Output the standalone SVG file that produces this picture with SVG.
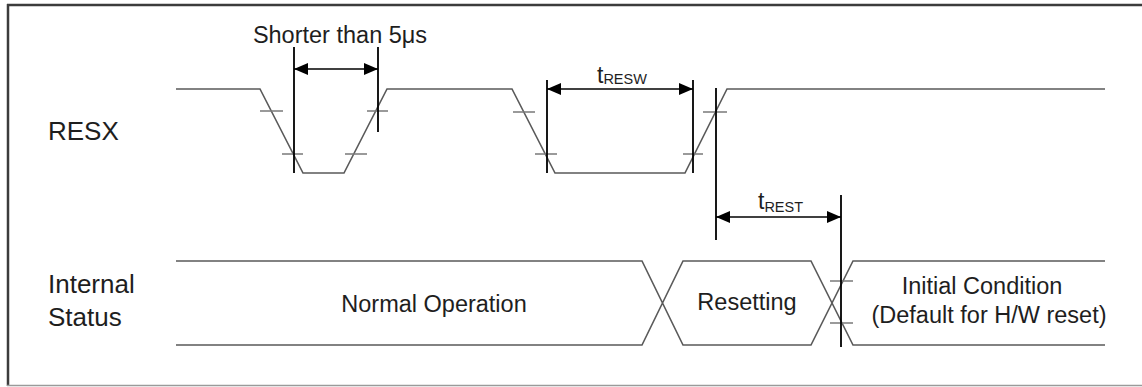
<svg xmlns="http://www.w3.org/2000/svg" width="1142" height="387" viewBox="0 0 1142 387">
<style>
.sig{fill:none;stroke:#5a5a5a;stroke-width:1.6;stroke-linejoin:miter}
.tick{fill:none;stroke:#7a7a7a;stroke-width:1.6}
.vl{fill:none;stroke:#000;stroke-width:1.8}
.dim{fill:none;stroke:#000;stroke-width:1.6;marker-start:url(#ah);marker-end:url(#ah)}
.t{font-family:"Liberation Sans",Arial,sans-serif;fill:#1e1e1e}
.lbl{font-size:26px}
.mid{font-size:23.5px;text-anchor:middle}
.sub{font-size:14.5px}
</style>
<defs>
<marker id="ah" viewBox="0 0 14 12" refX="14" refY="6" markerWidth="14" markerHeight="12" markerUnits="userSpaceOnUse" orient="auto-start-reverse">
<path d="M0,0 L14,6 L0,12 Z" fill="#000"/>
</marker>
</defs>
<rect x="0" y="0" width="1142" height="387" fill="#fff"/>
<g id="frame">
<line x1="7" y1="5" x2="1142" y2="5" stroke="#3c3c3c" stroke-width="2.5"/>
<line x1="8" y1="4" x2="8" y2="386" stroke="#3c3c3c" stroke-width="2.5"/>
<line x1="7" y1="385.5" x2="1142" y2="385.5" stroke="#9a9a9a" stroke-width="1.5"/>
</g>
<g id="labels">
<text class="t lbl" x="48" y="140">RESX</text>
<text class="t lbl" x="48" y="293">Internal</text>
<text class="t lbl" x="48" y="326">Status</text>
</g>
<g id="resx-signal">
<polyline class="sig" points="176,89 260,89 303,173 344,173 387,89 512,89 555,173 685,173 727,89 1105,89"/>
<path class="tick" d="M260,111H283 M282,154H303 M345,154H367 M367,111H388 M513,112H535 M535,154H557 M683,154H703 M703,112H727"/>
</g>
<g id="status-signal">
<path class="sig" d="M176,261H642L683,345H811L853,261H1105 M176,345H642L683,261H811L853,345H1105"/>
<path class="tick" d="M830,281H853 M830,323H853"/>
</g>
<g id="connectors">
<path class="vl" d="M294,47V173 M378,47V132 M547,80V173 M693,80V173 M716,88V240 M841,195V347"/>
<line class="dim" x1="294" y1="69" x2="378" y2="69"/>
<line class="dim" x1="547" y1="89" x2="693" y2="89"/>
<line class="dim" x1="716" y1="217" x2="841" y2="217"/>
</g>
<g id="timing-labels">
<text class="t mid" x="340" y="43">Shorter than 5μs</text>
<text class="t" x="597" y="83" font-size="23">t<tspan class="sub" dy="1">RESW</tspan></text>
<text class="t" x="758" y="209" font-size="23">t<tspan class="sub" dy="3">REST</tspan></text>
</g>
<g id="state-normal"><text class="t mid" x="434" y="312">Normal Operation</text></g>
<g id="state-resetting"><text class="t mid" x="747" y="310">Resetting</text></g>
<g id="state-initial">
<text class="t mid" x="982" y="294">Initial Condition</text>
<text class="t mid" x="989" y="323">(Default for H/W reset)</text>
</g>
</svg>
